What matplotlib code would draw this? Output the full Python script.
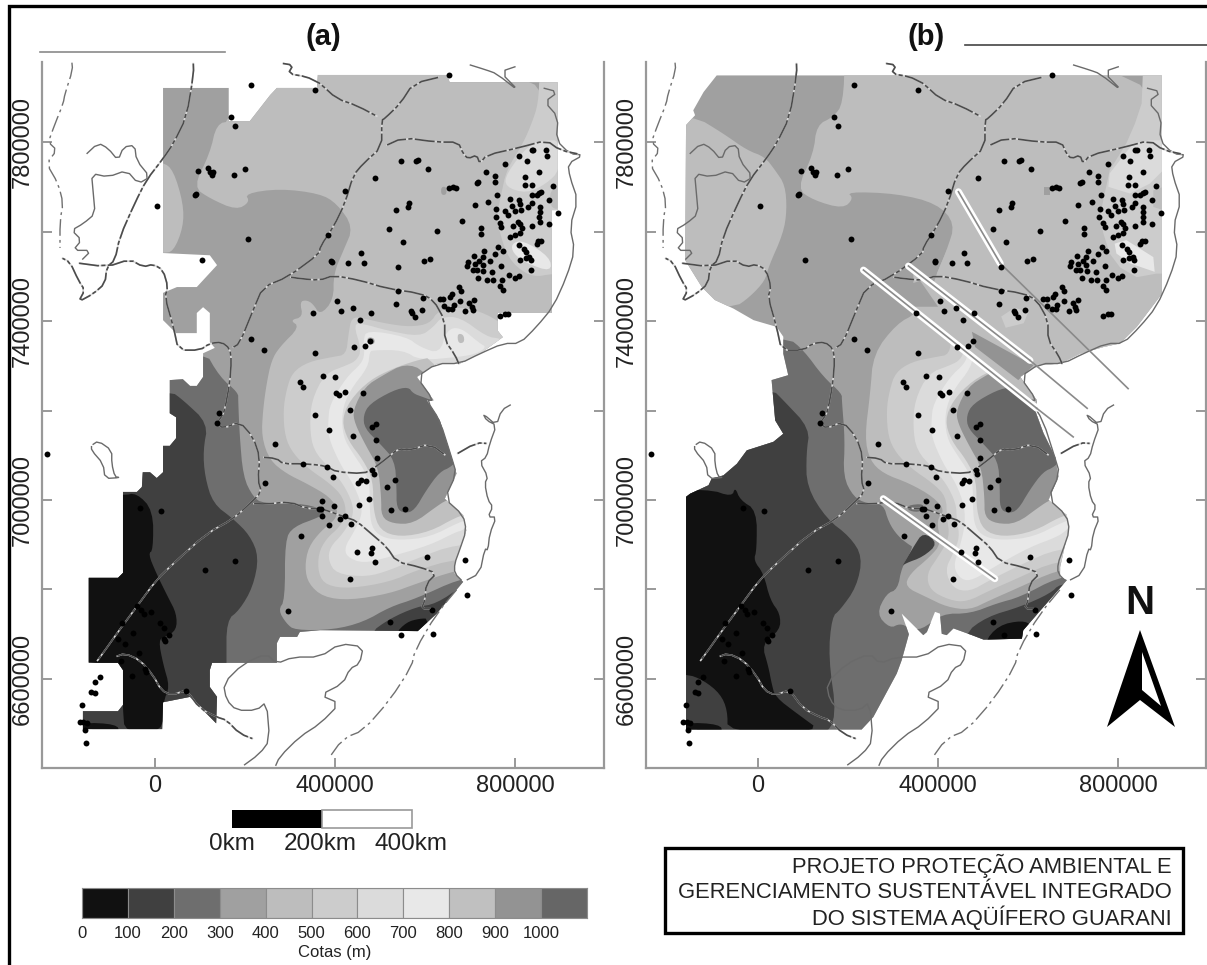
import numpy as np
import matplotlib
matplotlib.use("Agg")
import matplotlib.pyplot as plt
from matplotlib.patches import Polygon, Rectangle

plt.rcParams['font.family'] = ['Liberation Sans', 'DejaVu Sans']

# ---- legend ----
LEVELS = [0, 100, 200, 300, 400, 500, 600, 700, 800, 900, 1000]
LEVEL_COLORS = ['#111111', '#404040', '#6e6e6e', '#a0a0a0', '#bdbdbd', '#cccccc',
                '#dbdbdb', '#e8e8e8', '#c0c0c0', '#939393', '#666666']
C = dict(zip(LEVELS, LEVEL_COLORS))
XT = [0, 400000, 800000]
YT = [6600000, 7000000, 7400000, 7800000]
YT_MINOR = [6600000, 6800000, 7000000, 7200000, 7400000, 7600000, 7800000]
BOX_LINES = ["PROJETO PROTEÇÃO AMBIENTAL E", "GERENCIAMENTO SUSTENTÁVEL INTEGRADO", "DO SISTEMA AQÜÍFERO GUARANI"]

# ---- all map coordinates: km east, km north ----
WELLS = [(654,7950),(546,7757),(580,7757),(584,7760),(607,7739),(489,7719),(422,7690),(810,7769),(837,7782),(841,7782),(869,7783),(871,7769),(826,7757),(778,7751),(736,7733),(755,7724),(755,7710),(715,7709),(719,7711),(854,7733),(823,7721),(822,7704),(838,7704),(885,7702),(654,7698),(662,7700),(669,7698),(761,7682),(838,7681),(848,7681),(854,7687),(859,7688),(788,7673),(808,7670),(876,7670),(741,7666),(711,7660),(565,7663),(562,7655),(536,7648),(793,7657),(811,7661),(813,7648),(837,7663),(830,7655),(855,7655),(759,7650),(778,7646),(800,7646),(785,7637),(855,7644),(895,7641),(757,7633),(682,7624),(854,7633),(855,7622),(767,7620),(770,7610),(807,7622),(811,7618),(796,7612),(815,7608),(838,7612),(875,7618),(725,7609),(521,7605),(627,7602),(724,7594),(811,7596),(800,7592),(789,7587),(551,7576),(852,7578),(848,7572),(859,7578),(809,7569),(763,7566),(773,7557),(820,7562),(824,7555),(832,7543),(457,7553),(732,7557),(756,7550),(709,7546),(728,7543),(611,7539),(597,7534),(394,7532),(392,7534),(430,7529),(465,7530),(811,7536),(824,7540),(835,7536),(696,7532),(721,7534),(744,7534),(693,7523),(711,7527),(728,7525),(770,7524),(540,7520),(835,7515),(706,7514),(716,7515),(730,7512),(750,7510),(719,7496),(739,7491),(752,7491),(772,7491),(787,7502),(800,7497),(808,7500),(767,7479),(773,7469),(676,7475),(680,7467),(540,7467),(595,7452),(660,7461),(656,7454),(633,7450),(641,7450),(405,7445),(679,7444),(699,7441),(710,7446),(536,7437),(642,7433),(664,7435),(652,7426),(661,7426),(704,7432),(706,7424),(690,7422),(568,7423),(571,7419),(413,7422),(440,7430),(594,7424),(480,7417),(577,7409),(456,7402),(767,7412),(778,7415),(785,7415),(478,7356),(467,7344),(442,7341),(373,7278),(401,7275),(403,7239),(408,7234),(423,7242),(463,7240),(385,7593),
         (214,7927),(355,7917),(169,7855),(177,7836),(96,7735),(118,7741),(126,7730),(129,7733),(122,7733),(126,7726),(200,7739),(175,7726),(89,7681),(91,7684),(4,7657),(206,7583),(104,7537),(351,7419),(214,7359),(243,7335),(356,7329),(323,7263),(328,7253),
         (-239,7103),(356,7190),(142,7195),(137,7172),(266,7126),(329,7081),(244,7039),(365,6981),(-33,6983),(13,6975),(325,6919),(177,6864),(111,6844),(295,6752),(-39,6763),(-30,6755),(-25,6745),(-9,6750),(-74,6725),(11,6726),(20,6715),(-49,6703),(31,6698),(20,6690),(22,6685),(-81,6690),(-67,6678),(-35,6657),(-76,6640),(-22,6623),(-20,6616),(-50,6607),(70,6573),(-122,6605),(-133,6593),(-141,6570),(-133,6569),(-161,6541),(-167,6503),(-159,6503),(-152,6502),(-156,6485),(-154,6457),
         (434,7201),(492,7171),(483,7163),(387,7157),(441,7144),(492,7135),(494,7095),(383,7074),(483,7067),(487,7059),(396,7052),(533,7044),(468,7043),(457,7044),(452,7039),(516,7029),(475,7003),(372,6998),(454,6989),(398,6986),(555,6979),(525,6978),(368,6981),(372,6965),(422,6965),(411,6957),(435,6947),(387,6944),(450,6883),(483,6892),(481,6882),(489,6862),(605,6873),(690,6867),(434,6824),(694,6788),(522,6728),(616,6755),(546,6698),(618,6701)]

BORDERS = [
    [(85,7983),(86,7953),(70,7856),(41,7797),(18,7763),(-19,7715),(-45,7663),(-78,7588),(-89,7536),(-107,7521),(-111,7484),(-137,7461),(-170,7443),(-156,7469),(-170,7491),(-189,7532),(-211,7543)],
    [(-189,7532),(-107,7521),(-56,7538),(-26,7521),(-4,7527),(18,7514),(29,7476),(22,7454),(41,7387),(52,7335),(100,7335),(122,7350),(148,7353),(166,7339),(170,7313),(166,7260),(155,7201),(148,7186),(137,7172),(152,7160),(188,7175),(218,7141),(233,7096),(229,7044),(237,7018),(211,6992),(174,6958),(115,6925),(41,6858),(3,6821),(-41,6761),(-85,6701),(-111,6664),(-133,6634)],
    [(233,7096),(270,7093),(285,7081),(329,7081),(366,7078),(383,7074),(404,7063),(463,7059),(485,7070),(515,7093),(541,7115),(566,7111),(611,7126),(655,7093)],
    [(211,6992),(248,6991),(300,6996),(337,6981),(365,6981),(381,6977),(422,6962),(448,6953),(485,6921),(515,6895),(537,6862),(589,6850),(626,6836),(603,6813),(600,6776),(592,6757),(618,6757)],
    [(-89,6649),(-67,6657),(-33,6642),(-4,6608),(14,6575),(37,6564),(70,6575),(100,6534),(137,6515),(159,6508),(188,6478),(226,6463)],
    [(648,7949),(574,7931),(545,7886),(511,7853),(504,7849),(504,7789),(463,7752),(441,7726),(422,7663),(397,7611),(367,7566),(366,7551),(296,7499),(240,7476),(218,7424),(188,7350),(170,7339)],
    [(277,7977),(307,7972),(296,7953),(337,7946),(359,7935),(367,7931),(404,7897),(448,7882),(508,7850)],
    [(504,7788),(552,7810),(626,7800),(674,7800),(685,7774),(696,7763),(715,7771),(722,7752),(737,7771),(811,7788),(870,7804),(900,7782),(952,7771)],
    [(296,7499),(322,7495),(366,7491),(397,7502),(456,7491),(515,7473),(589,7462),(619,7447),(644,7402),(644,7357),(667,7324),(678,7298)],
    [(659,7096),(714,7128),(744,7126)],
]
DASHED = [
    [(-185,7983),(-183,7961),(-200,7908),(-204,7886),(-222,7841),(-237,7800),(-218,7782),(-241,7752),(-215,7707),(-204,7663),(-211,7625),(-211,7543)],
    [(685,6817),(626,6746),(578,6664),(570,6627),(522,6553),(463,6485),(418,6467),(378,6411)],
]
COASTS = [
    [(689,7976),(737,7961),(759,7953),(811,7912),(767,7957),(811,7972)],
    [(855,7923),(896,7912),(866,7890),(896,7856),(892,7804),(922,7774),(952,7771),(918,7752),(922,7722),(940,7670),(922,7611),(933,7558),(915,7499),(885,7432),(848,7387),(811,7350),(774,7350),(722,7327),(678,7305),(626,7305),(582,7275),(619,7223),(604,7223),(633,7178),(659,7096),(670,7059),(644,7003),(685,6966),(692,6932),(677,6888),(666,6858),(666,6836),(685,6817)],
    [(796,7216),(770,7201),(759,7167),(729,7193),(737,7178),(759,7167),(744,7126),(737,7096),(722,7085),(740,7052),(733,7037),(740,7000),(751,6985),(740,6962),(759,6962),(744,6925),(740,6888),(733,6891),(722,6836),(685,6817)],
    [(-159,7767),(-126,7798),(-104,7786),(-82,7759),(-70,7789),(-45,7793),(-41,7759),(-11,7722),(-37,7707),(-63,7737),(-104,7722),(-141,7730),(-137,7685),(-133,7640),(-159,7618),(-185,7603),(-163,7581),(-182,7558),(-141,7558),(-167,7532)],
    [(-141,7122),(-126,7132),(-96,7111),(-96,7081),(-89,7052),(-78,7050),(-111,7048),(-115,7081),(-141,7111),(-141,7122)],
    [(188,6400),(233,6433),(255,6463),(248,6549),(226,6530),(181,6530),(159,6553),(152,6590),(196,6634),(248,6657),(270,6634),(307,6649),(367,6649),(411,6679),(463,6672),(455,6634),(433,6623),(418,6590),(367,6564),(411,6545),(367,6500),(322,6471),(277,6426),(266,6401)],
]

DOMAIN_A = [(18,7921),(164,7921),(164,7847),(211,7847),(256,7905),(271,7921),(360,7921),(362,7950),(649,7950),(655,7934),(895,7934),(895,7648),(882,7648),(882,7418),(762,7418),(762,7378),(773,7364),(722,7327),(678,7305),(626,7305),(582,7275),(619,7223),(604,7223),(633,7178),(659,7096),(670,7059),(644,7003),(685,6966),(692,6932),(677,6888),(666,6858),(666,6836),(685,6817),(626,6746),(584,6707),(367,6709),(322,6705),(316,6694),(278,6694),(271,6680),(271,6636),(127,6636),(122,6620),(122,6582),(138,6560),(136,6501),(78,6560),(18,6548),(16,6488),(-160,6488),(-160,6528),(-82,6528),(-71,6542),(-71,6620),(-82,6636),(-147,6636),(-147,6826),(-82,6826),(-71,6837),(-71,7018),(-40,7018),(-29,7029),(-27,7062),(-11,7062),(4,7049),(18,7062),(18,7121),(33,7121),(47,7138),(47,7185),(33,7194),(33,7268),(62,7270),(78,7255),(93,7255),(107,7275),(107,7328),(133,7340),(122,7353),(122,7418),(107,7431),(93,7418),(93,7373),(47,7373),(18,7402),(18,7463),(49,7476),(93,7476),(138,7525),(122,7547),(18,7552)]
DOMAIN_B = [(-92,7949),(897,7949),(897,7461),(841,7387),(804,7350),(767,7342),(715,7327),(671,7305),(619,7301),(582,7275),(619,7223),(615,7201),(634,7149),(660,7096),(667,7052),(645,7000),(686,6966),(689,6932),(671,6850),(671,6828),(686,6821),(634,6761),(589,6709),(586,6690),(501,6688),(475,6698),(434,6713),(419,6698),(408,6701),(404,6746),(393,6750),(375,6705),(367,6698),(341,6724),(319,6746),(335,6700),(319,6642),(308,6612),(256,6515),(230,6487),(-160,6487),(-160,7007),(-151,7014),(-110,7033),(-103,7048),(-77,7055),(-47,7081),(-25,7111),(34,7130),(56,7148),(38,7178),(34,7223),(30,7268),(67,7279),(56,7327),(56,7365),(41,7387),(-10,7402),(-55,7428),(-96,7447),(-125,7476),(-162,7536),(-160,7838),(-140,7860),(-144,7871),(-121,7912)]

# elevation bands, panel (a)
BD_A = [(170,8000),(170,7847),(137,7841),(122,7774),(85,7700),(122,7674),(181,7648),(211,7666),(200,7685),(277,7696),(366,7685),(404,7663),(441,7610),(419,7558),(397,7506),(397,7447),(367,7413),(351,7439),(336,7447),(322,7443),(329,7409),(300,7402),(322,7387),(277,7342),(259,7312),(248,7260),(240,7200),(237,7141),(255,7089),(292,7059),(337,7037),(389,7007),(407,6977),(400,6955),(370,6932),(341,6895),(333,6850),(341,6813),(374,6783),(433,6776),(522,6791),(581,6813),(670,6843),(729,6850),(1000,6850),(1000,8000)]
BD_WEST_A = [(-50,7756),(17,7756),(41,7737),(63,7663),(63,7610),(41,7555),(17,7552),(-50,7552)]
SIXE_A = [(107,7340),(144,7275),(185,7240),(185,7223),(188,7148),(196,7052),(218,7007),(240,6992),(337,6992),(381,6973),(366,6962),(307,6940),(289,6910),(289,6776),(274,6754),(292,6724),(311,6709),(396,6710),(463,6727),(522,6761),(581,6780),(677,6824),(720,6824),(720,6400),(-300,6400),(-300,7340)]
FORTY_W_A = [(-300,7245),(33,7245),(63,7223),(118,7171),(107,7111),(111,7052),(129,6992),(174,6958),(211,6921),(231,6873),(218,6806),(188,6754),(159,6731),(159,6634),(159,6400),(-300,6400)]
FORTY_SE_A = [(474,6700),(522,6735),(581,6761),(625,6768),(685,6809),(720,6809),(720,6600),(474,6600)]
ELEVEN_W_A = [(-300,7010),(-70,7010),(-41,7016),(-4,6977),(-4,6888),(-15,6880),(3,6836),(29,6783),(48,6746),(48,6709),(22,6694),(8,6687),(18,6634),(33,6582),(18,6549),(18,6480),(-67,6480),(-71,6530),(-71,6550),(-80,6640),(-300,6640)]
ELEVEN_SW = [(-165,6503),(-85,6499),(-78,6480),(-165,6480)]
ELEVEN_SE_A = [(533,6700),(559,6727),(588,6735),(610,6735),(610,6600),(533,6600)]

# rings, shared north part + south part of each panel
CC_N = [(289,7141),(285,7200),(292,7245),(305,7285),(341,7309),(396,7320),(425,7325),(430,7370),(437,7409),(463,7406),(515,7394),(567,7387),(611,7394),(630,7424),(678,7432),(737,7417),(790,7380),(790,6869)]
CC_TAIL = [(418,7007),(389,7037),(341,7070),(307,7104)]
CC_S_A = [(670,6869),(581,6843),(522,6817),(433,6802),(381,6809),(363,6835),(363,6880),(381,6914),(411,6940),(426,6970)]
CC_S_B = [(663,6865),(574,6824),(515,6798),(463,6772),(426,6776),(382,6798),(374,6835),(400,6873),(426,6917),(419,6962)]
DB_N = [(344,7163),(348,7223),(378,7283),(426,7301),(448,7312),(459,7335),(441,7394),(463,7394),(515,7379),(589,7365),(619,7387),(637,7409),(678,7409),(737,7365),(767,7361),(790,7350),(790,6902)]
DB_TAIL = [(440,6992),(418,7037),(389,7070),(352,7111)]
DB_S_A = [(670,6902),(581,6869),(522,6843),(470,6828),(403,6835),(385,6865),(389,6895),(418,6925),(440,6962)]
DB_S_B = [(663,6891),(589,6858),(515,6821),(470,6795),(433,6802),(415,6843),(433,6880),(448,6917),(441,6955)]
E8_N = [(385,7178),(389,7215),(426,7275),(459,7305),(466,7327),(463,7357),(471,7380),(559,7365),(589,7342),(633,7327),(648,7380),(678,7387),(722,7350),(737,7342),(715,7327),(678,7320),(589,7312),(552,7335),(485,7335),(477,7331),(474,7297),(433,7245),(415,7197),(418,7141),(440,7104),(466,7066),(477,7037),(477,6985),(481,6940),(503,6917),(544,6910),(611,6917),(677,6951),(714,6962),(685,6932)]
E8_TAIL = [(440,7037),(411,7081),(385,7141)]
E8_S_A = [(670,6929),(611,6899),(522,6873),(463,6858),(426,6873),(422,6895),(440,6925),(459,6962),(459,6992)]
E8_S_B = [(663,6917),(604,6895),(530,6854),(478,6821),(452,6821),(433,6850),(448,6895),(459,6940),(459,6985)]
C0 = [(581,7312),(529,7294),(477,7268),(433,7223),(415,7178),(429,7133),(463,7089),(485,7044),(485,6977),(500,6932),(544,6917),(611,6929),(670,6962),(700,6970),(720,7100),(620,7320)]
N93 = [(555,7305),(507,7279),(466,7253),(440,7201),(444,7171),(470,7119),(496,7074),(503,7007),(503,6962),(529,6947),(574,6947),(625,6985),(648,7000),(662,7000),(700,7000),(650,7200),(600,7290)]
N66 = [(563,7253),(529,7245),(477,7215),(463,7189),(466,7160),(500,7126),(533,7089),(537,7029),(537,6981),(555,6970),(577,6977),(603,7022),(633,7063),(659,7074),(685,7104),(655,7208),(596,7230),(574,7238)]
# north-east plateau details
NE_CC = [(855,7960),(852,7886),(837,7841),(818,7797),(781,7737),(770,7685),(759,7633),(767,7596),(781,7551),(804,7520),(841,7498),(885,7506),(950,7506),(950,7960)]
NE_DB = [(833,7797),(781,7730),(778,7700),(826,7685),(870,7707),(900,7737),(900,7804),(870,7804)]
NE_BD = [(878,7692),(900,7700),(900,7648),(878,7655)]
NE_E8 = [(792,7573),(818,7581),(878,7543),(881,7510),(826,7529),(796,7551)]
PATCH_A0_N = [(636,7700),(648,7700),(648,7682),(636,7682)]
PATCH_BD_A = [(672,7372),(686,7370),(688,7352),(674,7350)]
PATCH_A0_A = [(472,7364),(488,7362),(488,7348),(472,7348)]

# panel (b)
BD_B = [(193,8000),(189,7886),(167,7856),(130,7838),(123,7774),(86,7696),(123,7670),(189,7651),(212,7674),(197,7689),(308,7685),(397,7663),(438,7618),(419,7558),(397,7506),(385,7470),(352,7417),(308,7394),(256,7327),(249,7238),(237,7141),(248,7089),(278,7059),(337,7037),(389,7007),(415,6977),(396,6955),(407,6903),(382,6873),(337,6835),(326,6806),(374,6783),(419,6761),(470,6754),(515,6776),(574,6802),(663,6843),(729,6850),(1000,6850),(1000,8000)]
BD_WEST_B = [(-300,7860),(-144,7860),(-77,7819),(-25,7782),(15,7767),(38,7737),(60,7704),(64,7648),(56,7596),(23,7521),(16,7491),(-18,7454),(-55,7428),(-300,7428)]
SIXE_B = [(-300,7380),(64,7365),(101,7335),(145,7275),(186,7238),(186,7223),(193,7134),(189,7052),(212,7007),(241,6992),(278,6992),(290,6950),(310,6920),(335,6900),(345,6895),(319,6850),(310,6800),(285,6791),(263,6745),(293,6713),(315,6724),(335,6715),(363,6709),(408,6746),(471,6746),(530,6769),(582,6783),(667,6828),(720,6828),(720,6400),(-300,6400)]
FORTY_W_B = [(-300,7260),(30,7249),(56,7223),(115,7160),(107,7104),(108,7029),(152,6958),(204,6918),(232,6873),(219,6806),(182,6754),(164,6739),(156,6649),(175,6515),(145,6470),(-300,6400)]
FORTY_SE_B = [(456,6700),(508,6739),(582,6761),(649,6791),(671,6813),(720,6813),(720,6600),(456,6600)]
ELEVEN_W_B = [(-300,7020),(-110,7025),(-58,7007),(-51,7029),(-40,7000),(-3,6977),(-3,6888),(-10,6865),(12,6836),(27,6776),(49,6746),(49,6709),(8,6679),(23,6627),(30,6590),(38,6560),(86,6523),(145,6480),(-68,6480),(-68,6530),(-84,6567),(-121,6597),(-160,6612),(-300,6612)]
ELEVEN_SE_B = [(501,6680),(534,6720),(586,6731),(610,6720),(610,6600),(501,6600)]
WEDGE_B = [(319,6850),(345,6895),(367,6929),(400,6903),(367,6873),(326,6858)]
PATCH_6E_B = [(330,6988),(370,6992),(363,6973),(335,6975)]
COVER_B = [(397,7480),(604,7312),(720,7240),(900,7320),(900,7600),(445,7600),(419,7558),(397,7506)]
STRIP_B = [(345,7515),(640,7284),(619,7205),(360,7417),(345,7430)]
BLOCK_B = [(475,7376),(612,7301),(578,7268),(482,7342)]
TRI_B = [(330,7480),(360,7490),(400,7432),(340,7432)]
PATCH_CC_B = [(540,7410),(570,7430),(600,7420),(590,7395),(550,7385)]

FAULTS_THICK = [[(445,7689),(538,7529)], [(334,7523),(604,7312)], [(234,7514),(619,7205)], [(278,7003),(526,6824)]]
FAULTS_THIN = [[(538,7529),(822,7249)], [(604,7312),(731,7205)], [(619,7205),(700,7141)]]

def chaikin(pts, closed=True, n=2):
    p = np.asarray(pts, float)
    for _ in range(n):
        q = np.roll(p, -1, axis=0) if closed else p[1:]
        a = p if closed else p[:-1]
        out = np.empty((2 * len(a), 2))
        out[0::2] = 0.75 * a + 0.25 * q
        out[1::2] = 0.25 * a + 0.75 * q
        p = out
    return p

def m(pts):
    return np.asarray(pts, float) * 1000

W, H = 1207, 965
fig = plt.figure(figsize=(W / 100, H / 100), dpi=100, facecolor='white')

def axes_px(l, t, r, b):
    return fig.add_axes([l / W, (H - b) / H, (r - l) / W, (b - t) / H])

def style_map(ax, xlim):
    ax.set_xlim(*xlim)
    ax.set_ylim(6401000, 7979000)
    ax.set_facecolor('white')
    for s in ('left', 'right', 'bottom'):
        ax.spines[s].set_color('#999999')
        ax.spines[s].set_linewidth(1.6)
    ax.spines['top'].set_visible(False)
    ax.set_xticks(XT)
    ax.set_xticklabels([str(v) for v in XT], fontsize=17, color='#222222')
    ax.set_yticks(YT_MINOR)
    ax.set_yticklabels([str(v) if v in YT else '' for v in YT_MINOR], fontsize=17,
                       color='#222222', rotation=90, va='center')
    ax.tick_params(axis='x', direction='in', length=7, width=1.2, color='#888888', pad=5)
    ax.tick_params(axis='y', direction='in', length=7, width=1.2, color='#888888', pad=6,
                   left=True, right=True)

def draw_panel(ax, domain, layers, plain_layers):
    clip = Polygon(m(domain), closed=True, transform=ax.transData, facecolor='none', edgecolor='none')
    ax.add_patch(clip)
    base = Polygon(m(domain), closed=True, facecolor=C[300], edgecolor='none', zorder=1)
    ax.add_patch(base)
    z = 1.0
    for pts, lev in layers:
        z += 0.01
        poly = Polygon(m(chaikin(pts)), closed=True, facecolor=C[lev], edgecolor='none', zorder=z)
        ax.add_patch(poly)
        poly.set_clip_path(clip)
    for pts, lev in plain_layers:
        z += 0.01
        poly = Polygon(m(pts), closed=True, facecolor=C[lev], edgecolor='none', zorder=z)
        ax.add_patch(poly)
        poly.set_clip_path(clip)

def draw_lines(ax):
    for line in COASTS:
        p = m(chaikin(line, closed=False, n=1))
        ax.plot(p[:, 0], p[:, 1], color='#6a6a6a', lw=1.0, zorder=3)
    for line in BORDERS:
        p = m(chaikin(line, closed=False, n=1))
        ax.plot(p[:, 0], p[:, 1], color='#d8d8d8', lw=1.2, zorder=3.05)
        ax.plot(p[:, 0], p[:, 1], color='#4c4c4c', lw=1.2, zorder=3.1,
                dashes=(12, 1.4, 2.5, 1.4))
    for line in DASHED:
        p = m(chaikin(line, closed=False, n=1))
        ax.plot(p[:, 0], p[:, 1], color='#707070', lw=1.0, zorder=3.1,
                dashes=(12, 3, 2, 3))
    w = m(WELLS)
    ax.scatter(w[:, 0], w[:, 1], s=18, color='black', linewidths=0, zorder=5, clip_on=True)

# ---- panel (a) ----
ax_a = axes_px(42, 62, 604, 768)
style_map(ax_a, (-251000, 998000))
layers_a = [
    (BD_A, 400), (BD_WEST_A, 400), (NE_CC, 500), (NE_DB, 600), (NE_BD, 400), (NE_E8, 700),
    (SIXE_A, 200), (FORTY_W_A, 100), (FORTY_SE_A, 100), (ELEVEN_W_A, 0), (ELEVEN_SW, 0), (ELEVEN_SE_A, 0),
    (CC_N + CC_S_A + CC_TAIL, 500),
    (DB_N + DB_S_A + DB_TAIL, 600),
    (E8_N + E8_S_A + E8_TAIL, 700),
    (C0, 800), (N93, 900), (N66, 1000),
    (PATCH_A0_N, 300), (PATCH_BD_A, 400), (PATCH_A0_A, 300),
]
draw_panel(ax_a, DOMAIN_A, layers_a, [])
draw_lines(ax_a)

# ---- panel (b) ----
ax_b = axes_px(646, 62, 1206, 768)
style_map(ax_b, (-249000, 995000))
layers_b = [
    (BD_B, 400), (BD_WEST_B, 400),
    (SIXE_B, 200), (FORTY_W_B, 100), (FORTY_SE_B, 100), (ELEVEN_W_B, 0), (ELEVEN_SW, 0), (ELEVEN_SE_B, 0),
    (WEDGE_B, 100), (PATCH_6E_B, 200),
    (CC_N + CC_S_B + CC_TAIL, 500),
    (DB_N + DB_S_B + DB_TAIL, 600),
    (E8_N + E8_S_B + E8_TAIL, 700),
    (C0, 800), (N93, 900), (N66, 1000),
]
plain_b = [(COVER_B, 400), (STRIP_B, 400), (BLOCK_B, 900), (TRI_B, 300), (NE_CC, 500), (NE_DB, 600),
           (NE_BD, 400), (NE_E8, 700), (PATCH_CC_B, 500), (PATCH_A0_N, 300)]
draw_panel(ax_b, DOMAIN_B, layers_b, plain_b)
for seg in FAULTS_THICK:
    p = m(seg)
    ax_b.plot(p[:, 0], p[:, 1], color='white', lw=5, solid_capstyle='round', zorder=4)
    ax_b.plot(p[:, 0], p[:, 1], color='#8a8a8a', lw=1.2, zorder=4.1)
for seg in FAULTS_THIN:
    p = m(seg)
    ax_b.plot(p[:, 0], p[:, 1], color='#8a8a8a', lw=1.2, zorder=4.1)
draw_lines(ax_b)

# ---- colour legend ----
cax = axes_px(82, 888, 587, 918)
cax.bar(LEVELS, [1] * len(LEVELS), width=100, align='edge', color=LEVEL_COLORS,
        edgecolor='#8c8c8c', linewidth=0.8)
cax.set_xlim(0, 1100)
cax.set_ylim(0, 1)
cax.set_yticks([])
cax.set_xticks(LEVELS)
cax.set_xticklabels([str(v) for v in LEVELS], fontsize=12, color='#222222')
cax.tick_params(axis='x', length=0, pad=6)
for s in cax.spines.values():
    s.set_color('#8c8c8c')
    s.set_linewidth(0.8)
cax.set_xlabel('Cotas (m)', fontsize=12, color='#222222', labelpad=3)

# ---- page decoration, placed on the sheet ----
ov = fig.add_axes([0, 0, 1, 1], zorder=10)
ov.set_xlim(0, W)
ov.set_ylim(H, 0)
ov.axis('off')
ov.patch.set_alpha(0)
ov.plot([9, 9, W], [H, 6, 6], color='black', lw=2.4, solid_joinstyle='miter')
ov.plot([40, 225], [52, 52], color='#8a8a8a', lw=1.2)
ov.plot([965, W], [45, 45], color='#444444', lw=1.2)
ov.text(323, 37, '(a)', fontsize=21, fontweight='bold', ha='center', va='center', color='#111111')
ov.text(926, 37, '(b)', fontsize=21, fontweight='bold', ha='center', va='center', color='#111111')
# scale bar
ov.add_patch(Rectangle((232, 810), 90, 18, facecolor='black', edgecolor='none'))
ov.add_patch(Rectangle((322, 810), 90, 18, facecolor='white', edgecolor='#999999', lw=1.2))
for x, t in [(232, '0km'), (320, '200km'), (411, '400km')]:
    ov.text(x, 844, t, fontsize=17.5, ha='center', va='center', color='#222222')
# title box
ov.add_patch(Rectangle((665, 848), 518, 85, facecolor='white', edgecolor='black', lw=2.4))
for y, t in zip([866, 892, 918], BOX_LINES):
    ov.text(1172, y, t, fontsize=15.8, ha='right', va='center', color='#222222')
# north arrow
ov.text(1140, 603, 'N', fontsize=29, fontweight='bold', ha='center', va='center', color='#111111')
ov.add_patch(Polygon([(1140, 630), (1107, 727), (1140, 700), (1175, 727)], closed=True, facecolor='black', edgecolor='none'))
ov.add_patch(Polygon([(1142, 652), (1142, 690), (1161, 706)], closed=True, facecolor='white', edgecolor='none'))

fig.savefig('out.png', dpi=100, facecolor='white')
